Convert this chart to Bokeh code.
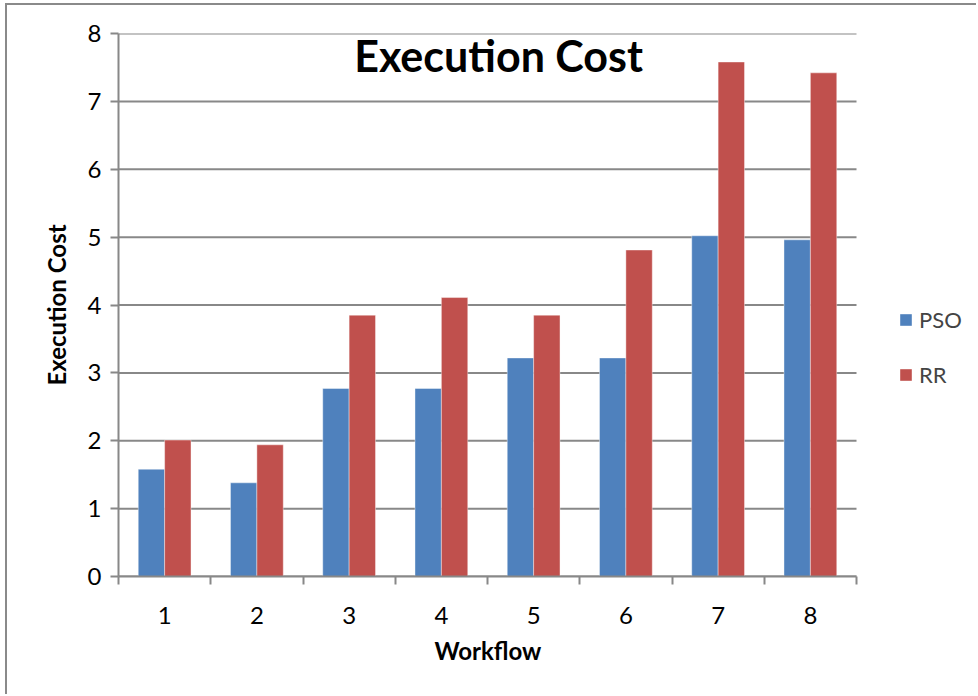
from bokeh.plotting import figure
from bokeh.models import ColumnDataSource, FixedTicker, Legend, LegendItem, Label, Range1d, Title
from bokeh.embed import file_html
from bokeh.resources import INLINE

workflows = [1, 2, 3, 4, 5, 6, 7, 8]
pso = [1.58, 1.38, 2.77, 2.77, 3.22, 3.22, 5.02, 4.96]
rr = [2.01, 1.94, 3.85, 4.11, 3.85, 4.81, 7.58, 7.42]
y_ticks = [0, 1, 2, 3, 4, 5, 6, 7, 8]

FONT = "Lato"
GRID = "#888888"

x_lo = workflows[0] - 0.5
x_hi = workflows[-1] + 0.5
# frame extends to the right edge so the legend can sit inside it
p = figure(width=971, height=691, output_backend="svg", toolbar_location=None,
           x_range=Range1d(x_lo, x_lo + 860 / 92.25), y_range=Range1d(0, 8),
           min_border_left=111, min_border_right=0, min_border_top=28, min_border_bottom=120)
p.styles = {"border-top": "2px solid #8a8a8a", "border-left": "2px solid #8a8a8a",
            "margin-left": "5px", "margin-top": "3px"}
p.outline_line_color = None
p.background_fill_color = "white"

# horizontal grid lines limited to the category area
p.segment(x0=[x_lo] * len(y_ticks), x1=[x_hi] * len(y_ticks), y0=y_ticks, y1=y_ticks,
          line_color=GRID, line_width=2, level="underlay")

src = ColumnDataSource(dict(
    x_pso=[w - 0.143 for w in workflows],
    x_rr=[w + 0.143 for w in workflows],
    pso=pso, rr=rr))

w = 0.286
r1 = p.vbar(x="x_pso", top="pso", width=w, source=src, fill_color="#4F81BD",
            line_color="white", line_alpha=0.4, line_width=1)
r2 = p.vbar(x="x_rr", top="rr", width=w, source=src, fill_color="#C0504D",
            line_color="white", line_alpha=0.4, line_width=1)

p.xgrid.grid_line_color = None
p.ygrid.grid_line_color = None

yax = p.yaxis[0]
yax.ticker = FixedTicker(ticks=y_ticks)
yax.axis_line_color = GRID
yax.axis_line_width = 2
yax.major_tick_line_color = GRID
yax.major_tick_line_width = 2
yax.major_tick_in = 0
yax.major_tick_out = 8
yax.minor_tick_line_color = None
yax.major_label_text_font = FONT
yax.major_label_text_font_size = "24px"
yax.major_label_text_color = "black"
yax.major_label_standoff = 9
yax.axis_label = "Execution Cost"
yax.axis_label_text_font = FONT
yax.axis_label_text_font_size = "24px"
yax.axis_label_text_font_style = "bold"
yax.axis_label_text_color = "black"
yax.axis_label_standoff = 14

xax = p.xaxis[0]
xax.bounds = (x_lo, x_hi)
xax.ticker = FixedTicker(ticks=workflows, minor_ticks=[x - 0.5 for x in workflows] + [x_hi])
xax.axis_line_color = GRID
xax.axis_line_width = 2
xax.major_tick_line_color = None
xax.major_tick_in = 0
xax.major_tick_out = 0
xax.minor_tick_line_color = GRID
xax.minor_tick_line_width = 2
xax.minor_tick_in = 0
xax.minor_tick_out = 8
xax.major_label_text_font = FONT
xax.major_label_text_font_size = "24px"
xax.major_label_text_color = "black"
xax.major_label_standoff = 22

# x-axis title, centred under the category area (not the widened frame)
p.add_layout(Title(text="Workflow", align="left", offset=316, standoff=14,
                   text_font=FONT, text_font_size="24px", text_font_style="bold",
                   text_color="black"), "below")

title = Label(x=4.62, y=7.67, text="Execution Cost", text_align="center",
              text_baseline="middle", text_font=FONT, text_font_size="43px",
              text_font_style="bold", text_color="black")
p.add_layout(title)

legend = Legend(items=[LegendItem(label="PSO", renderers=[r1]),
                       LegendItem(label="RR", renderers=[r2])],
                location=(780, 188), orientation="vertical",
                glyph_width=15, glyph_height=15, label_height=22, spacing=28,
                label_text_font=FONT, label_text_font_size="22px",
                label_standoff=6, padding=0, margin=0,
                border_line_color=None, background_fill_color=None)
p.add_layout(legend)

open("out.html", "w").write(file_html(p, INLINE))
